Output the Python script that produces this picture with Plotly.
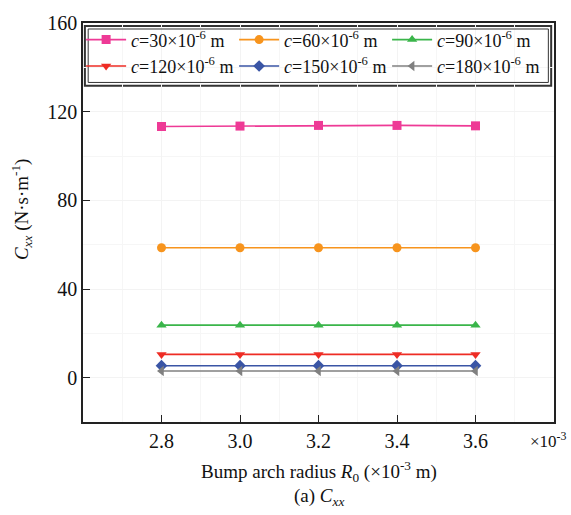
import plotly.graph_objects as go

# Bump arch radius R0 (x10^-3 m)
radius = [2.8, 3.0, 3.2, 3.4, 3.6]

# Nominal clearance c (x10^-6 m) for each curve
clearance = [30, 60, 90, 120, 150, 180]

# Direct damping Cxx (N·s/m) per clearance
cxx_c30 = [113.3, 113.5, 113.8, 113.8, 113.6]
cxx_c60 = [58.6, 58.6, 58.6, 58.6, 58.6]
cxx_c90 = [23.7, 23.7, 23.7, 23.7, 23.7]
cxx_c120 = [10.5, 10.5, 10.5, 10.5, 10.5]
cxx_c150 = [5.4, 5.4, 5.4, 5.4, 5.4]
cxx_c180 = [3.0, 3.0, 3.0, 3.0, 3.0]

series = [cxx_c30, cxx_c60, cxx_c90, cxx_c120, cxx_c150, cxx_c180]
colors = ["#EE3A96", "#F7941D", "#3AB54A", "#EE2C24", "#3A55A5", "#808080"]
symbols = ["square", "circle", "triangle-up", "triangle-down", "diamond", "triangle-left"]

FONT = "Liberation Serif"

fig = go.Figure()
for c, y, col, sym in zip(clearance, series, colors, symbols):
    fig.add_trace(go.Scatter(
        x=radius, y=y, mode="lines+markers",
        name=f"<i>c</i>={c}×10<sup>-6</sup> m",
        line=dict(color=col, width=1.6),
        marker=dict(symbol=sym, size=9, color=col),
    ))

axis_common = dict(
    showline=True, linecolor="#222", linewidth=1.5, mirror=True,
    ticks="inside", ticklen=7, tickwidth=1.3, tickcolor="#222",
    showgrid=True, gridcolor="#f3f3f3", gridwidth=1,
    zeroline=False,
    tickfont=dict(family=FONT, size=20, color="#111"),
)

fig.update_xaxes(
    range=[2.6, 3.8], tickvals=radius, tickformat=".1f",
    minor=dict(dtick=0.1, showgrid=True, gridcolor="#f6f6f6", ticks=""),
    **axis_common,
)
fig.update_yaxes(
    range=[-20, 160], tickvals=[0, 40, 80, 120, 160],
    minor=dict(tickvals=[-20, 20, 60, 100, 140], showgrid=True, gridcolor="#f6f6f6", ticks=""),
    **axis_common,
)

# Double-line frame around the legend
fig.add_shape(type="rect", xref="paper", yref="paper",
              x0=0.004, x1=0.994, y0=0.843, y1=0.9925,
              line=dict(color="#333", width=2), fillcolor="white", layer="below")
fig.add_shape(type="rect", xref="paper", yref="paper",
              x0=0.011, x1=0.988, y0=0.851, y1=0.985,
              line=dict(color="#333", width=1))

annotations = [
    dict(text="Bump arch radius <i>R</i><sub>0</sub> (×10<sup>-3</sup> m)",
         x=0.5, y=-0.123, xref="paper", yref="paper", showarrow=False,
         xanchor="center", yanchor="middle", font=dict(family=FONT, size=19, color="#111")),
    dict(text="(a) <i>C</i><sub><i>xx</i></sub>",
         x=0.5, y=-0.187, xref="paper", yref="paper", showarrow=False,
         xanchor="center", yanchor="middle", font=dict(family=FONT, size=19, color="#111")),
    dict(text="<i>C</i><sub><i>xx</i></sub> (N·s·m<sup>-1</sup>)",
         x=-0.13, y=0.533, xref="paper", yref="paper", showarrow=False, textangle=-90,
         xanchor="center", yanchor="middle", font=dict(family=FONT, size=19, color="#111")),
    dict(text="×10<sup>-3</sup>",
         x=0.945, y=-0.045, xref="paper", yref="paper", showarrow=False,
         xanchor="left", yanchor="middle", font=dict(family=FONT, size=17, color="#111")),
]

fig.update_layout(
    width=571, height=515,
    margin=dict(l=83, r=17, t=20, b=93),
    paper_bgcolor="white", plot_bgcolor="white",
    font=dict(family=FONT, size=17, color="#111"),
    showlegend=True,
    legend=dict(
        orientation="h", x=-0.004, y=1.004, xanchor="left", yanchor="top",
        bgcolor="rgba(0,0,0,0)", borderwidth=0,
        entrywidth=98, entrywidthmode="pixels",
        font=dict(family=FONT, size=18, color="#111"),
        itemwidth=40, tracegroupgap=0,
    ),
    annotations=annotations,
)

fig.write_html("out.html")
